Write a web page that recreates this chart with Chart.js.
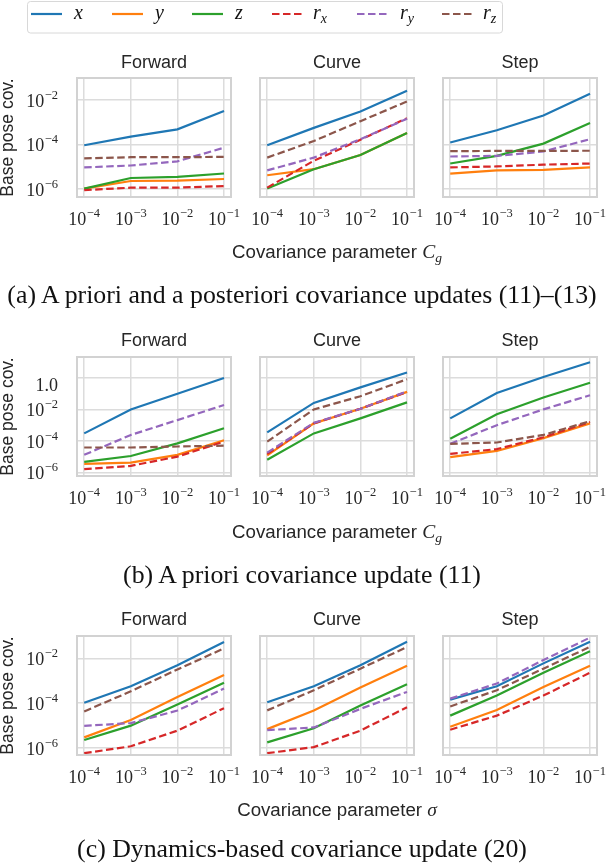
<!DOCTYPE html>
<html>
<head>
<meta charset="utf-8">
<script src="https://cdn.jsdelivr.net/npm/chart.js@4.4.0/dist/chart.umd.min.js"></script>
<style>
  html, body { margin: 0; padding: 0; background: #fff; }
  #fig { position: relative; width: 606px; height: 864px; overflow: hidden; }
  #fig canvas { position: absolute; }
  #overlay { position: absolute; left: 0; top: 0; }
</style>
</head>
<body>
<div id="fig"></div>
<script>
// covariance parameter values (x axis)
const paramValues = [1e-4, 1e-3, 1e-2, 1e-1];
const seriesNames = ['x', 'y', 'z', 'rx', 'ry', 'rz'];
const panelTitles = ['Forward', 'Curve', 'Step'];
const xTicks = [1e-4, 1e-3, 1e-2, 1e-1];
const yTicksA = [1e-6, 1e-4, 1e-2];
const yTicksB = [1e-6, 1e-4, 1e-2, 1];
const yTicksC = [1e-6, 1e-4, 1e-2];

// each panel: one row per series, order x, y, z, r_x, r_y, r_z
// (a) a priori and a posteriori updates
const aForward = [
  [9e-5, 2.2e-4, 4.7e-4, 3.2e-3],
  [1e-6, 2.2e-6, 2.3e-6, 2.7e-6],
  [1e-6, 3e-6, 3.4e-6, 4.8e-6],
  [8.5e-7, 1.1e-6, 1.1e-6, 1.3e-6],
  [9e-6, 1.1e-5, 1.7e-5, 7e-5],
  [2.3e-5, 2.6e-5, 2.6e-5, 2.7e-5]
];
const aCurve = [
  [9e-5, 5.5e-4, 3e-3, 2.6e-2],
  [4e-6, 7.5e-6, 3.3e-5, 3.2e-4],
  [1e-6, 7.5e-6, 3.3e-5, 3.2e-4],
  [1.1e-6, 1.8e-5, 1.6e-4, 1.5e-3],
  [6.6e-6, 2.5e-5, 1.7e-4, 1.4e-3],
  [2.5e-5, 1.4e-4, 1.1e-3, 8.5e-3]
];
const aStep = [
  [1.2e-4, 4.3e-4, 2e-3, 1.9e-2],
  [4.7e-6, 6.6e-6, 7e-6, 9e-6],
  [1.35e-5, 3e-5, 1.07e-4, 9e-4],
  [9e-6, 1e-5, 1.2e-5, 1.35e-5],
  [2.8e-5, 3e-5, 4.7e-5, 1.7e-4],
  [4.9e-5, 5e-5, 5e-5, 5.1e-5]
];
// (b) a priori update
const bForward = [
  [3e-4, 1e-2, 0.1, 1.0],
  [3.5e-6, 4.2e-6, 1.3e-5, 1.1e-4],
  [4.7e-6, 1.1e-5, 7e-5, 6.3e-4],
  [1.6e-6, 2.6e-6, 1e-5, 9e-5],
  [1.3e-5, 2.4e-4, 2.1e-3, 1.9e-2],
  [3.8e-5, 3.8e-5, 4.4e-5, 5e-5]
];
const bCurve = [
  [3.5e-4, 2.6e-2, 0.25, 2.2],
  [1.2e-5, 1.3e-3, 1.1e-2, 0.13],
  [6.3e-6, 3e-4, 2.7e-3, 2.8e-2],
  [1.5e-5, 1.3e-3, 1.1e-2, 0.13],
  [1.8e-5, 1.4e-3, 1.1e-2, 0.14],
  [9e-5, 1e-2, 6.9e-2, 0.83]
];
const bStep = [
  [2.7e-3, 0.11, 1.15, 10],
  [9.3e-6, 2.3e-5, 1.5e-4, 1.3e-3],
  [1.35e-4, 5e-3, 5.7e-2, 0.5],
  [1.5e-5, 3e-5, 1.7e-4, 1.6e-3],
  [6.5e-5, 1e-3, 1e-2, 8e-2],
  [6.5e-5, 7.9e-5, 2.4e-4, 1.8e-3]
];
// (c) dynamics-based update
const cForward = [
  [1.05e-4, 5.7e-4, 5e-3, 5.4e-2],
  [3e-6, 1.8e-5, 1.9e-4, 1.8e-3],
  [2.3e-6, 1e-5, 8.7e-5, 8.3e-4],
  [5.9e-7, 1.2e-6, 6e-6, 6e-5],
  [9.8e-6, 1.3e-5, 4.7e-5, 4.5e-4],
  [4.3e-5, 3.4e-4, 3.2e-3, 2.8e-2]
];
const cCurve = [
  [1.1e-4, 5.7e-4, 5e-3, 5.6e-2],
  [7e-6, 4.7e-5, 5e-4, 4.7e-3],
  [1.8e-6, 7.6e-6, 8e-5, 7e-4],
  [5.9e-7, 1.1e-6, 6e-6, 6.6e-5],
  [6.3e-6, 8.3e-6, 5.6e-5, 3.2e-4],
  [4.8e-5, 3.8e-4, 3.5e-3, 3.2e-2]
];
const cStep = [
  [1.45e-4, 5.7e-4, 6e-3, 5.6e-2],
  [9e-6, 5e-5, 5.3e-4, 4.7e-3],
  [2.8e-5, 2.2e-4, 2.3e-3, 2.1e-2],
  [6.6e-6, 2.8e-5, 2.2e-4, 2.3e-3],
  [1.6e-4, 7.6e-4, 8.5e-3, 8.5e-2],
  [7.2e-5, 3.8e-4, 3.5e-3, 3.3e-2]
];

const rowsData = [[aForward, aCurve, aStep], [bForward, bCurve, bStep], [cForward, cCurve, cStep]];
const rowsYTicks = [yTicksA, yTicksB, yTicksC];
const captions = [
  '(a) A priori and a posteriori covariance updates (11)\u2013(13)',
  '(b) A priori covariance update (11)',
  '(c) Dynamics-based covariance update (20)'
];
const xSymbols = ['C', 'C', '\u03c3'];
const xSubs = ['g', 'g', ''];

// styling / layout
const colors = ['#1f77b4', '#ff7f0e', '#2ca02c', '#d62728', '#9467bd', '#8c564b'];
const dashed = [false, false, false, true, true, true];
const plotLefts = [77, 260, 443];
const plotTops = [78, 357, 636];
const plotW = 154, plotH = 119;
const padL = 72, padT = 12, padR = 24, padB = 40;
const yLogRange = [[-6.38, -1.01], [-6.23, 1.33], [-6.31, -1.0]];
const xLogRange = [-4.15, -0.85];
const ink = '#262626';

const fig = document.getElementById('fig');

function drawPow(ctx, v, x, py, align) {
  const e = Math.round(Math.log10(v));
  const big = '18px "Liberation Serif"', small = '12.5px "Liberation Serif"';
  ctx.textBaseline = 'alphabetic';
  if (e === 0) {
    ctx.font = big; ctx.textAlign = align;
    ctx.fillText('1.0', x, py + 6);
    return;
  }
  const sup = '\u2212' + Math.abs(e);
  ctx.font = big; const w1 = ctx.measureText('10').width;
  ctx.font = small; const w2 = ctx.measureText(sup).width + 0.5;
  const left = align === 'center' ? x - (w1 + w2) / 2 : x - (w1 + w2);
  ctx.textAlign = 'left';
  ctx.font = big; ctx.fillText('10', left, py);
  ctx.font = small; ctx.fillText(sup, left + w1 + 0.5, py - 8);
}

const tickLabels = {
  id: 'tickLabels',
  afterDraw(chart, args, opts) {
    const ctx = chart.ctx, a = chart.chartArea;
    ctx.save();
    ctx.strokeStyle = '#d2d2d2';
    ctx.lineWidth = 2;
    ctx.strokeRect(a.left, a.top, a.right - a.left, a.bottom - a.top);
    ctx.fillStyle = ink;
    const xs = chart.scales.x;
    xs.ticks.forEach(t => drawPow(ctx, t.value, xs.getPixelForValue(t.value), a.bottom + 28, 'center'));
    if (opts.showY) {
      const ys = chart.scales.y;
      ys.ticks.forEach(t => drawPow(ctx, t.value, a.left - 19, ys.getPixelForValue(t.value) + 7, 'right'));
    }
    ctx.restore();
  }
};

for (let r = 0; r < 3; r++) {
  for (let c = 0; c < 3; c++) {
    const cv = document.createElement('canvas');
    const w = padL + plotW + padR, h = padT + plotH + padB;
    cv.width = w; cv.height = h;
    cv.style.width = w + 'px'; cv.style.height = h + 'px';
    cv.style.left = (plotLefts[c] - padL) + 'px';
    cv.style.top = (plotTops[r] - padT) + 'px';
    fig.appendChild(cv);

    const panel = rowsData[r][c];
    const datasets = seriesNames.map((name, i) => ({
      label: name,
      data: paramValues.map((p, k) => ({ x: p, y: panel[i][k] })),
      borderColor: colors[i],
      borderWidth: 2.2,
      borderDash: dashed[i] ? [7.5, 3.5] : [],
      borderCapStyle: 'butt',
      pointRadius: 0,
      fill: false,
      tension: 0,
      order: 5 - i
    }));
    const yTicks = rowsYTicks[r];
    new Chart(cv, {
      type: 'line',
      data: { datasets },
      plugins: [tickLabels],
      options: {
        responsive: false,
        animation: false,
        layout: { padding: { left: 0, top: padT, right: padR, bottom: 0 } },
        plugins: { legend: { display: false }, tooltip: { enabled: false }, tickLabels: { showY: c === 0 } },
        scales: {
          x: {
            type: 'logarithmic', position: 'bottom',
            min: Math.pow(10, xLogRange[0]), max: Math.pow(10, xLogRange[1]),
            afterBuildTicks: s => { s.ticks = xTicks.map(v => ({ value: v })); },
            afterFit: s => { s.height = padB; },
            ticks: { display: false },
            grid: { color: '#dcdcdc', lineWidth: 1.5, drawTicks: false },
            border: { display: false }
          },
          y: {
            type: 'logarithmic', position: 'left',
            min: Math.pow(10, yLogRange[r][0]), max: Math.pow(10, yLogRange[r][1]),
            afterBuildTicks: s => { s.ticks = yTicks.map(v => ({ value: v })); },
            afterFit: s => { s.width = padL; },
            ticks: { display: false },
            grid: { color: '#dcdcdc', lineWidth: 1.5, drawTicks: false },
            border: { display: false }
          }
        }
      }
    });
  }
}

// text overlay: legend, titles, axis labels, captions
const NS = 'http://www.w3.org/2000/svg';
const svg = document.createElementNS(NS, 'svg');
svg.setAttribute('id', 'overlay');
svg.setAttribute('width', 606);
svg.setAttribute('height', 864);
let s = '';
s += '<rect x="27.5" y="1.5" width="475" height="31.5" rx="3" fill="#fff" stroke="#d8d8d8" stroke-width="1"/>';
const legLineX = [31, 112, 192, 272, 357, 442];
const legTextX = [74, 155, 235, 313, 400, 483];
seriesNames.forEach((name, i) => {
  s += `<line x1="${legLineX[i]}" x2="${legLineX[i] + 31}" y1="14" y2="14" stroke="${colors[i]}" stroke-width="2.2"` +
       (dashed[i] ? ' stroke-dasharray="7.5 3.5"' : '') + '/>';
  const main = name[0], sub = name.slice(1);
  s += `<text x="${legTextX[i]}" y="19" font-family="Liberation Serif" font-style="italic" font-size="20" fill="#111">${main}` +
       (sub ? `<tspan font-size="14" dy="4">${sub}</tspan>` : '') + '</text>';
});
const titleBase = [67.5, 345.5, 624.5];
const xLabelBase = [258, 538, 816];
const capBase = [303, 583, 857];
for (let r = 0; r < 3; r++) {
  for (let c = 0; c < 3; c++) {
    s += `<text x="${plotLefts[c] + plotW / 2}" y="${titleBase[r]}" text-anchor="middle" font-family="Liberation Sans" font-size="18" fill="${ink}">${panelTitles[c]}</text>`;
  }
  const cy = plotTops[r] + plotH / 2;
  s += `<text transform="translate(13,${cy}) rotate(-90)" text-anchor="middle" font-family="Liberation Sans" font-size="17.5" fill="${ink}">Base pose cov.</text>`;
  s += `<text x="337" y="${xLabelBase[r]}" text-anchor="middle" font-family="Liberation Sans" font-size="18.7" fill="${ink}">Covariance parameter ` +
       `<tspan font-family="Liberation Serif" font-style="italic" font-size="19.5">${xSymbols[r]}</tspan>` +
       (xSubs[r] ? `<tspan font-family="Liberation Serif" font-style="italic" font-size="13.5" dy="4">${xSubs[r]}</tspan>` : '') + '</text>';
  s += `<text x="302" y="${capBase[r]}" text-anchor="middle" font-family="Liberation Serif" font-size="25.8" fill="#111">${captions[r]}</text>`;
}
svg.innerHTML = s;
fig.appendChild(svg);
</script>
</body>
</html>
